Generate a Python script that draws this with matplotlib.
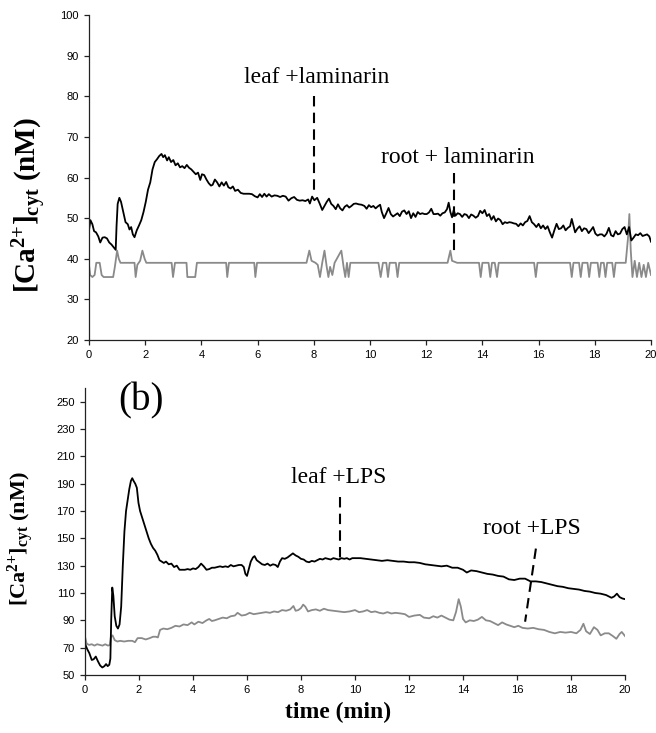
import matplotlib
matplotlib.use("Agg")
import matplotlib.pyplot as plt
import numpy as np

# ---------------- data ----------------
# Panel (a): laminarin
a_leaf_t = [0.00,0.05,0.12,0.18,0.25,0.33,0.40,0.48,0.56,0.64,0.72,0.80,0.88,0.95,0.98,1.02,1.08,1.14,1.22,1.30,
            1.38,1.44,1.50,1.56,1.62,1.70,1.78,1.86,1.94,2.02,2.10,2.18,2.26,2.34,2.42,2.50,2.58,2.64,2.70,2.78,
            2.84,2.92,3.00,3.08,3.16,3.24,3.32,3.40,3.48,3.56,3.64,3.72,3.80,3.88,3.96,4.02,4.10,4.18,4.26,4.34,
            4.40,4.48,4.56,4.64,4.72,4.80,4.88,4.96,5.04,5.12,5.20,5.30,5.40,5.50,5.60,5.70,5.80,5.90,6.00,6.08,
            6.16,6.24,6.32,6.40,6.50,6.60,6.70,6.80,6.90,7.00,7.10,7.20,7.30,7.40,7.50,7.60,7.70,7.80,7.86,7.94,
            8.02,8.12,8.22,8.30,8.38,8.46,8.54,8.62,8.70,8.78,8.86,8.94,9.02,9.10,9.18,9.26,9.34,9.42,9.50,9.60,
            9.70,9.80,9.88,9.96,10.04,10.12,10.20,10.28,10.36,10.42,10.50,10.58,10.66,10.74,10.82,10.90,10.98,11.06,11.14,11.22,
            11.30,11.38,11.46,11.54,11.62,11.70,11.78,11.86,11.94,12.02,12.10,12.18,12.26,12.34,12.42,12.50,12.58,12.66,12.74,12.80,
            12.86,12.92,12.98,13.04,13.12,13.20,13.28,13.36,13.44,13.52,13.60,13.68,13.76,13.84,13.92,14.00,14.08,14.16,14.24,14.32,
            14.40,14.48,14.56,14.64,14.72,14.80,14.88,14.96,15.04,15.12,15.20,15.28,15.36,15.44,15.52,15.60,15.68,15.76,15.84,15.92,
            16.00,16.08,16.16,16.24,16.32,16.40,16.48,16.56,16.64,16.72,16.80,16.88,16.96,17.04,17.12,17.18,17.24,17.30,17.38,17.46,
            17.54,17.62,17.70,17.78,17.86,17.94,18.02,18.10,18.18,18.26,18.34,18.42,18.50,18.58,18.66,18.74,18.82,18.90,18.98,19.06,
            19.14,19.22,19.30,19.38,19.46,19.54,19.62,19.70,19.78,19.86,19.94,20.00]
a_leaf_v = [47.0,49.5,48.5,46.8,46.5,45.5,44.0,45.2,45.3,45.0,44.0,43.5,42.8,42.2,48.0,53.5,55.0,54.0,51.5,49.0,
            48.5,47.2,47.8,46.0,45.3,47.0,48.2,49.5,51.5,54.0,57.0,58.8,62.0,63.8,64.5,65.3,65.8,65.0,65.5,64.2,
            65.0,63.8,64.3,63.0,63.5,62.5,62.8,62.3,63.1,62.4,62.0,61.4,60.8,61.2,59.4,60.8,60.6,59.5,58.6,58.0,
            58.2,59.5,58.8,57.8,58.8,58.0,58.9,57.6,57.3,57.8,56.7,57.0,56.2,56.0,56.0,56.0,55.9,55.4,55.1,55.9,
            55.2,56.0,55.3,55.9,55.3,55.6,55.5,55.2,55.5,55.3,54.3,54.9,55.2,54.5,54.3,54.4,54.2,54.6,53.6,55.3,
            54.4,55.0,53.4,52.0,53.0,54.0,54.8,53.5,53.0,52.2,53.4,52.4,51.9,52.8,53.2,52.6,53.0,53.5,53.6,53.4,
            53.3,53.0,52.3,53.2,52.7,53.0,52.4,52.9,53.3,51.5,50.0,51.2,52.5,51.0,50.4,50.8,51.2,50.5,51.6,51.9,
            51.0,51.7,50.0,51.2,50.3,51.5,51.0,51.2,51.0,51.0,51.4,52.3,51.0,51.0,51.1,50.6,51.2,51.4,52.2,53.8,
            51.5,50.2,52.0,50.6,51.2,51.0,50.3,51.0,50.8,50.0,50.9,50.6,50.1,50.5,51.8,51.2,52.0,50.5,51.0,49.6,
            50.5,49.2,49.9,49.5,48.5,49.0,48.8,49.0,48.9,48.7,48.6,48.0,48.7,48.2,49.0,49.3,50.5,49.0,48.5,47.8,
            48.6,47.5,48.2,47.3,48.0,46.5,45.2,47.0,48.6,47.3,47.5,48.2,47.0,47.6,48.0,49.8,48.1,46.5,47.4,48.0,
            46.8,47.5,47.3,46.3,47.0,47.8,46.2,45.7,46.0,46.0,45.5,46.2,47.6,45.8,45.5,46.8,46.0,46.2,47.3,47.8,
            46.0,47.8,44.5,45.2,46.0,45.8,46.3,45.6,45.8,46.0,45.5,44.2]

a_root_t = [0.00,0.04,0.12,0.20,0.26,0.38,0.45,0.52,0.86,0.92,1.00,1.06,1.12,1.62,1.66,1.72,1.82,1.90,1.98,2.04,
            2.94,2.99,3.06,3.47,3.50,3.78,3.84,4.88,4.92,4.98,5.88,5.92,5.98,7.74,7.84,7.92,8.06,8.14,8.22,8.30,
            8.38,8.46,8.52,8.58,8.66,8.74,8.98,9.06,9.12,9.18,9.24,9.30,10.30,10.38,10.46,10.58,10.64,10.70,10.92,10.98,
            11.04,12.76,12.86,12.92,13.10,13.88,13.94,14.00,14.22,14.28,14.34,14.44,14.52,14.58,15.84,15.90,15.96,17.12,17.18,17.24,
            17.44,17.50,17.56,17.74,17.80,17.86,18.10,18.16,18.22,18.32,18.38,18.44,18.62,18.68,18.74,19.10,19.18,19.23,19.28,19.34,
            19.42,19.50,19.58,19.66,19.74,19.82,19.90,20.00]
a_root_v = [38.5,36.0,35.5,36.0,39.0,39.0,36.0,35.5,35.5,38.0,42.0,40.0,39.0,39.0,35.5,38.5,39.5,42.0,40.0,39.0,
            39.0,35.5,39.0,39.0,35.5,35.5,39.0,39.0,35.5,39.0,39.0,35.5,39.0,39.0,42.0,39.5,39.0,38.5,35.5,39.0,
            42.0,38.0,35.5,38.0,36.0,39.0,42.0,38.0,35.5,39.0,35.5,39.0,39.0,35.5,39.0,39.0,35.5,39.0,39.0,35.5,
            39.0,39.0,42.0,39.5,39.0,39.0,35.5,39.0,39.0,35.5,39.0,39.0,35.5,39.0,39.0,35.5,39.0,39.0,35.5,39.0,
            39.0,35.5,39.0,39.0,35.5,39.0,39.0,35.5,39.0,39.0,35.5,39.0,39.0,35.5,39.0,39.0,45.0,51.0,42.0,35.5,
            39.5,35.5,39.0,35.5,38.5,35.5,39.0,36.0]

# Panel (b): LPS
b_leaf_t = [0.00,0.08,0.16,0.25,0.32,0.40,0.48,0.56,0.64,0.72,0.78,0.84,0.90,0.94,0.97,1.01,1.05,1.10,1.16,1.22,
            1.28,1.34,1.40,1.46,1.52,1.58,1.64,1.70,1.75,1.80,1.86,1.92,1.98,2.04,2.12,2.20,2.28,2.36,2.44,2.52,
            2.60,2.68,2.76,2.84,2.92,3.00,3.10,3.20,3.30,3.40,3.50,3.60,3.70,3.80,3.90,4.00,4.10,4.20,4.30,4.40,
            4.50,4.60,4.70,4.80,4.90,5.00,5.10,5.20,5.30,5.40,5.50,5.60,5.70,5.80,5.88,5.94,6.00,6.06,6.14,6.22,
            6.28,6.36,6.46,6.56,6.66,6.76,6.86,6.96,7.06,7.14,7.22,7.30,7.40,7.50,7.60,7.70,7.80,7.90,8.00,8.10,
            8.20,8.30,8.40,8.50,8.60,8.70,8.80,8.90,9.00,9.10,9.20,9.30,9.40,9.50,9.60,9.70,9.80,9.90,10.00,10.20,
            10.40,10.60,10.80,11.00,11.20,11.40,11.60,11.80,12.00,12.20,12.40,12.60,12.80,13.00,13.20,13.40,13.60,13.80,14.00,14.14,
            14.30,14.50,14.70,14.90,15.10,15.30,15.50,15.70,15.90,16.10,16.30,16.50,16.70,16.90,17.10,17.30,17.50,17.70,17.90,18.10,
            18.30,18.50,18.70,18.90,19.10,19.30,19.50,19.60,19.70,19.80,19.90,20.00]
b_leaf_v = [73,69,66,61,61.5,63.5,60,57,55.5,56.5,58,56.5,57.5,62,90,114,108,93,86,84,
            87,100,130,155,170,178,186,192,194,192,190,187,176,170,165,160,155,150,146,143,
            141,138,134,133,132,133,131,131.5,129,130,127,127,127,127.5,127,128,127.5,129,131.5,129.5,
            127,127.5,128.5,128.5,129,129.5,129,129.5,129,130.5,129.5,130,130.5,130.5,129,124,122.5,127,133,136,
            137,134,132.5,131,130.5,131.5,130,131,130.5,129,133,135.5,135,136,137.5,139,137.5,136.5,135,134.5,
            133,132.5,133.5,133,134,135,134.5,135.5,135,134.5,135.5,135,134.5,135.5,135,135.5,134.5,135.5,135.5,135.5,
            135,134.5,134,133.5,134,133.5,133,133,132.5,132.5,132,131,130.5,130,129.5,130,128.5,128.5,127,125,
            126.5,126,125,124,123.5,122.5,122,120,119.5,120.5,120.5,118.5,118.5,118,117,116,115,114.5,113.5,113,
            112.5,111.5,111,110,109.5,108.5,106.5,107.5,109.5,107,106,105.5]

b_root_t = [0.00,0.06,0.15,0.25,0.35,0.45,0.55,0.65,0.75,0.85,0.92,0.96,1.02,1.10,1.20,1.30,1.45,1.60,1.75,1.85,
            1.95,2.10,2.25,2.40,2.52,2.62,2.70,2.78,2.90,3.05,3.20,3.35,3.50,3.65,3.80,3.95,4.05,4.20,4.35,4.50,
            4.60,4.70,4.80,4.95,5.10,5.25,5.40,5.55,5.65,5.80,5.95,6.10,6.25,6.40,6.55,6.70,6.85,7.00,7.15,7.30,
            7.45,7.60,7.72,7.80,7.90,8.00,8.08,8.16,8.26,8.40,8.55,8.70,8.85,9.00,9.20,9.40,9.60,9.80,10.00,10.15,
            10.30,10.45,10.60,10.75,10.90,11.05,11.20,11.35,11.50,11.70,11.85,12.00,12.20,12.40,12.55,12.75,12.90,13.05,13.20,13.35,
            13.50,13.64,13.74,13.84,13.92,14.00,14.10,14.25,14.40,14.55,14.70,14.85,15.00,15.15,15.30,15.45,15.60,15.75,15.90,16.05,
            16.20,16.40,16.60,16.80,17.00,17.20,17.40,17.60,17.80,18.00,18.20,18.35,18.46,18.56,18.70,18.85,18.98,19.10,19.25,19.40,
            19.55,19.68,19.80,19.88,20.00]
b_root_v = [78,73,72,72.5,71.5,72.5,72,71.5,72.5,71.5,72,78,79,75.5,74.5,75,74.5,75,75,74,
            77,77,76,77,78,78,77.5,83,84,83.5,84.5,86,85.5,87,86.5,88.5,87,89,88,90,
            91,89.5,90,91,92,91.5,93,93.5,95.5,93.5,94,95.5,94.5,95,95.5,96,95.5,96.5,96,97.5,
            97,98,100.5,97,97.5,99,101.5,100,96.5,97.5,98,97,98.5,97.5,97,96.5,96,96.5,97.5,96,
            96.5,97.5,96,96.5,95.5,95,96,95,95.5,95,94.5,92.5,93.5,94,92,91.5,93,92,93.5,92,
            90.5,90,96,105.5,100,91,88.5,90,89.5,90.5,92.5,90,89.5,88,86.5,88.5,87,86,85,86,
            84.5,84,84.5,83.5,83,81.5,80.5,81.5,81,81.5,80.5,83,87.5,82,80,85,83,79,80.5,80.5,
            78.5,76.5,80,81.5,78.5]

a_xticks = [0, 2, 4, 6, 8, 10, 12, 14, 16, 18, 20]
a_yticks = [20, 30, 40, 50, 60, 70, 80, 90, 100]
b_xticks = [0, 2, 4, 6, 8, 10, 12, 14, 16, 18, 20]
b_yticks = [50, 70, 90, 110, 130, 150, 170, 190, 210, 230, 250]

# ---------------- styling ----------------
plt.rcParams['font.family'] = ['Liberation Sans', 'DejaVu Sans']
plt.rcParams['mathtext.fontset'] = 'custom'
plt.rcParams['mathtext.rm'] = 'Liberation Serif:bold'
plt.rcParams['mathtext.it'] = 'Liberation Serif:bold'
plt.rcParams['mathtext.bf'] = 'Liberation Serif:bold'

SERIF = 'Liberation Serif'
BLACK = '#000000'
GREY = '#8a8a8a'

fig = plt.figure(figsize=(6.56, 7.33), dpi=100)

W, H = 656.0, 733.0
def rect(x0, y0, x1, y1):
    return [x0 / W, 1 - y1 / H, (x1 - x0) / W, (y1 - y0) / H]

ax1 = fig.add_axes(rect(89, 15, 651, 340))
ax2 = fig.add_axes(rect(85, 388, 625, 675))

def style(ax):
    for s in ['top', 'right']:
        ax.spines[s].set_visible(False)
    for s in ['left', 'bottom']:
        ax.spines[s].set_linewidth(0.9)
        ax.spines[s].set_color('#222222')
    ax.tick_params(direction='out', length=3.5, width=0.9, labelsize=8, colors='#222222',
                   labelcolor='black', pad=4)

# Panel a
ax1.plot(a_root_t, a_root_v, color=GREY, lw=1.3)
ax1.plot(a_leaf_t, a_leaf_v, color=BLACK, lw=1.3)
ax1.set_xlim(0, 20)
ax1.set_ylim(20, 100)
ax1.set_xticks(a_xticks)
ax1.set_yticks(a_yticks)
style(ax1)
ax1.plot([8, 8], [80, 56.5], color='black', lw=1.5, ls=(0, (5, 3)))
ax1.plot([13, 13], [61, 41.7], color='black', lw=1.5, ls=(0, (5, 3)))
ax1.text(8.11, 84.7, 'leaf +laminarin', family=SERIF, fontsize=17, ha='center', va='center')
ax1.text(13.11, 65.0, 'root + laminarin', family=SERIF, fontsize=17, ha='center', va='center')

# Panel b
ax2.plot(b_root_t, b_root_v, color=GREY, lw=1.3)
ax2.plot(b_leaf_t, b_leaf_v, color=BLACK, lw=1.3)
ax2.set_xlim(0, 20)
ax2.set_ylim(50, 260)
ax2.set_xticks(b_xticks)
ax2.set_yticks(b_yticks)
style(ax2)
ax2.plot([9.44, 9.44], [180, 135], color='black', lw=1.5, ls=(0, (5, 3)))
ax2.plot([16.7, 16.3], [142.5, 89], color='black', lw=1.5, ls=(0, (5, 3)))
ax2.text(9.39, 194.8, 'leaf +LPS', family=SERIF, fontsize=17, ha='center', va='center')
ax2.text(16.56, 157.3, 'root +LPS', family=SERIF, fontsize=17, ha='center', va='center')
ax2.text(2.07, 250.5, '(b)', family=SERIF, fontsize=28, ha='center', va='center')

ylab = r'$\mathrm{[Ca^{2{+}}]_{cyt}}$' + ' (nM)'
fig.text(30 / W, 1 - 205 / H, ylab, rotation=90, fontsize=21, family=SERIF, fontweight='bold',
         ha='center', va='center')
fig.text(21 / W, 1 - 539 / H, ylab, rotation=90, fontsize=16, family=SERIF, fontweight='bold',
         ha='center', va='center')
fig.text(338 / W, 1 - 712 / H, 'time (min)', family=SERIF, fontweight='bold', fontsize=17,
         ha='center', va='center')

fig.savefig('out.png', dpi=100)
